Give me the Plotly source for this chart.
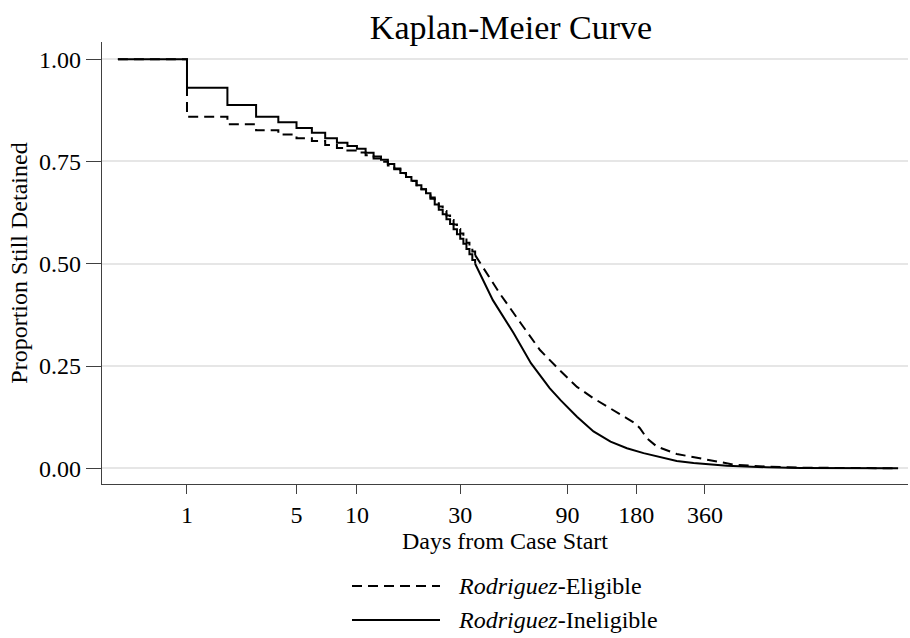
import math
import plotly.graph_objects as go

# ---------------- data ----------------
# Days from case start (early, step-wise part)
step_days = list(range(0, 36))

# Rodriguez-Eligible (dashed) – proportion still detained, daily steps
elig_step = [1.000, 0.859, 0.841, 0.826, 0.816, 0.807, 0.800, 0.790, 0.783, 0.777,
             0.772, 0.765, 0.757, 0.749, 0.740, 0.731, 0.721, 0.712, 0.702, 0.692,
             0.682, 0.672, 0.662, 0.651, 0.640, 0.629, 0.618, 0.607, 0.596, 0.585,
             0.574, 0.562, 0.551, 0.540, 0.530, 0.521]

# Rodriguez-Ineligible (solid) – proportion still detained, daily steps
inel_step = [1.000, 0.930, 0.888, 0.859, 0.846, 0.832, 0.820, 0.807, 0.796, 0.788,
             0.781, 0.771, 0.762, 0.754, 0.744, 0.733, 0.722, 0.712, 0.703, 0.692,
             0.682, 0.672, 0.659, 0.645, 0.632, 0.621, 0.609, 0.597, 0.584, 0.572,
             0.561, 0.549, 0.536, 0.523, 0.509, 0.500]

# Later part (steps too fine to see)
elig_tail_days = [35, 37, 45, 56, 68, 84, 99, 117, 139, 164, 178, 187, 201, 222,
                  271, 321, 379, 449, 480, 670, 937, 2505]
elig_tail = [0.521, 0.501, 0.428, 0.354, 0.289, 0.237, 0.199, 0.171, 0.147, 0.122,
             0.110, 0.098, 0.073, 0.053, 0.035, 0.027, 0.019, 0.012, 0.009, 0.004,
             0.0015, 0.0]

inel_tail_days = [35, 42, 52, 62, 75, 84, 99, 117, 139, 164, 194, 229, 271, 321,
                  379, 449, 670, 937, 2505]
inel_tail = [0.500, 0.411, 0.330, 0.257, 0.196, 0.166, 0.126, 0.090, 0.065, 0.049,
             0.037, 0.027, 0.018, 0.013, 0.009, 0.006, 0.0025, 0.001, 0.0]

tick_days = [1, 5, 10, 30, 90, 180, 360]
y_ticks = [0, 0.25, 0.5, 0.75, 1.0]
y_ticklabels = ["0.00", "0.25", "0.50", "0.75", "1.00"]

series_names = ["<i>Rodriguez</i>-Eligible", "<i>Rodriguez</i>-Ineligible"]

FONT = "Liberation Serif, Times New Roman, serif"
AXIS_COL = "#404040"

def shift(days):
    # axis is log(days + 1)
    return [d + 1 for d in days]

fig = go.Figure()

fig.add_trace(go.Scatter(x=shift(step_days), y=elig_step, mode="lines",
                         line=dict(color="black", width=2, dash="10px,6px", shape="hv"),
                         showlegend=False, hoverinfo="skip"))
fig.add_trace(go.Scatter(x=shift(elig_tail_days), y=elig_tail, mode="lines",
                         line=dict(color="black", width=2, dash="10px,6px"),
                         showlegend=False, hoverinfo="skip"))
fig.add_trace(go.Scatter(x=shift(step_days), y=inel_step, mode="lines",
                         line=dict(color="black", width=2, shape="hv"),
                         showlegend=False, hoverinfo="skip"))
fig.add_trace(go.Scatter(x=shift(inel_tail_days), y=inel_tail, mode="lines",
                         line=dict(color="black", width=2),
                         showlegend=False, hoverinfo="skip"))

# plot area geometry (pixels)
L, R, T, B = 102, 2, 42, 154
W, H = 910, 638
pw, ph = W - L - R, H - T - B

def px_x(p):
    return (p - L) / pw

def px_y(p):
    return (H - B - p) / ph

# custom legend (long line samples like the original)
legend_rows = [(586, "10px,6px"), (620, "solid")]
for (yy, dash), name in zip(legend_rows, series_names):
    fig.add_shape(type="line", xref="paper", yref="paper",
                  x0=px_x(352), x1=px_x(440), y0=px_y(yy), y1=px_y(yy),
                  line=dict(color="black", width=2, dash=dash))
    fig.add_annotation(text=name, xref="paper", yref="paper",
                       x=px_x(456), y=px_y(yy), xanchor="left", yanchor="middle",
                       showarrow=False, font=dict(family=FONT, size=24, color="black"))

fig.update_layout(
    width=W, height=H,
    margin=dict(l=L, r=R, t=T, b=B),
    paper_bgcolor="white", plot_bgcolor="white",
    font=dict(family=FONT, size=24, color="black"),
    title=dict(text="Kaplan-Meier Curve", x=px_x(511), xref="paper", xanchor="center",
               y=1 - 27 / H, yref="container", yanchor="middle",
               font=dict(family=FONT, size=34, color="black")),
    xaxis=dict(type="log", range=[-0.0692, 3.442],
               tickvals=shift(tick_days), ticktext=[str(d) for d in tick_days],
               ticks="outside", ticklen=9, tickwidth=1.2, tickcolor=AXIS_COL,
               showline=True, linecolor=AXIS_COL, linewidth=1.2,
               showgrid=False, zeroline=False, automargin=False,
               tickfont=dict(family=FONT, size=24, color="black"),
               title=dict(text="Days from Case Start", standoff=4,
                          font=dict(family=FONT, size=24, color="black"))),
    yaxis=dict(range=[-0.0384, 1.042], tickvals=y_ticks, ticktext=y_ticklabels,
               ticks="outside", ticklen=15, tickwidth=1.2, tickcolor=AXIS_COL,
               showline=True, linecolor=AXIS_COL, linewidth=1.2,
               showgrid=True, gridcolor="#e6e6e6", gridwidth=2,
               zeroline=False, automargin=False,
               tickfont=dict(family=FONT, size=24, color="black"),
               title=dict(text="Proportion Still Detained", standoff=4,
                          font=dict(family=FONT, size=24, color="black"))),
)

fig.write_html("out.html")
